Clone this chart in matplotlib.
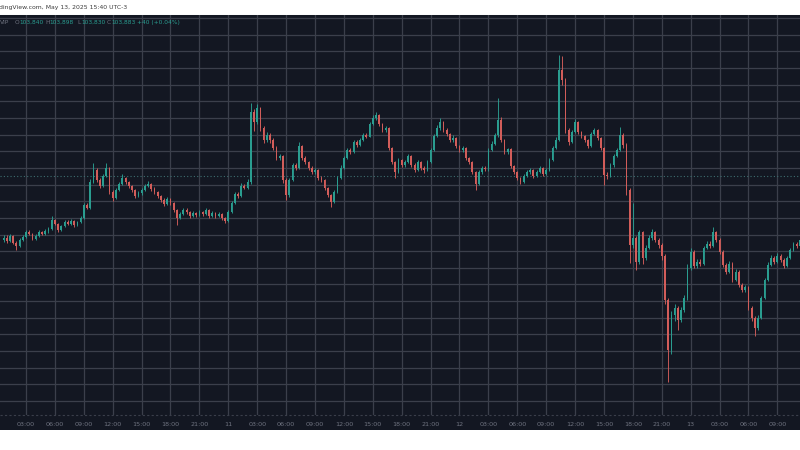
import matplotlib
matplotlib.use("Agg")
import matplotlib.pyplot as plt
from matplotlib.lines import Line2D

# ---------------- data (20-minute candles, hours since May 10 00:00, UTC-3) -------------
first_open = 102920
closes = [
    102950, 102905, 102980, 102875, 102830, 102920, 102965, 103040, 103010, 102935,
    102980, 103040, 103010, 103055, 103085, 103220, 103160, 103070, 103130, 103190,
    103160, 103205, 103145, 103190, 103250, 103445, 103400, 103790, 103970, 103820,
    103730, 103880, 104000, 103640, 103550, 103670, 103760, 103850, 103790, 103730,
    103670, 103580, 103625, 103670, 103730, 103760, 103685, 103640, 103580, 103520,
    103460, 103535, 103475, 103370, 103250, 103310, 103370, 103340, 103280, 103325,
    103295, 103340, 103310, 103370, 103280, 103325, 103280, 103310, 103250, 103205,
    103340, 103475, 103610, 103580, 103730, 103700, 103790, 104840, 104690, 104900,
    104600, 104420, 104495, 104420, 104300, 104150, 104180, 103820, 103595, 103820,
    104045, 104000, 104330, 104150, 104090, 104000, 103940, 103970, 103850, 103820,
    103700, 103595, 103490, 103640, 103850, 104000, 104150, 104270, 104240, 104390,
    104345, 104420, 104495, 104470, 104660, 104750, 104795, 104660, 104570, 104600,
    104300, 104090, 103940, 104120, 104045, 104090, 104180, 104045, 103970, 104090,
    104000, 103970, 104090, 104270, 104480, 104600, 104690, 104570, 104510, 104420,
    104450, 104330, 104270, 104300, 104150, 104090, 103940, 103760, 103940, 104000,
    103980, 104270, 104360, 104495, 104720, 104420, 104240, 104280, 104030, 103940,
    103850, 103790, 103880, 103940, 103970, 103880, 103940, 104000, 103910, 103970,
    104120, 104300, 104420, 105470, 105320, 104570, 104390, 104540, 104690, 104540,
    104480, 104420, 104330, 104510, 104570, 104450, 104300, 103895, 103880, 104045,
    104180, 104270, 104495, 104345, 103670, 102845, 102950, 102590, 103040, 102650,
    102800, 102950, 103040, 102920, 102845, 102680, 102020, 101270, 101795, 101900,
    101720, 101870, 102050, 102500, 102740, 102530, 102590, 102560, 102800, 102860,
    102830, 103040, 102920, 102740, 102545, 102440, 102560, 102320, 102440, 102245,
    102170, 102210, 101900, 101750, 101600, 101750, 102050, 102320, 102545, 102650,
    102590, 102680, 102620, 102530, 102650, 102770, 102860, 102830, 102920,
]
highs = [
    102995, 102985, 103010, 103000, 102900, 102945, 103000, 103075, 103070, 103030,
    103005, 103065, 103060, 103080, 103120, 103280, 103240, 103175, 103150, 103215,
    103220, 103230, 103225, 103210, 103280, 103470, 103480, 103830, 104075, 103995,
    103850, 103910, 104075, 104020, 103665, 103700, 103790, 103910, 103870, 103810,
    103750, 103690, 103650, 103700, 103760, 103800, 103780, 103710, 103660, 103600,
    103545, 103560, 103555, 103490, 103390, 103340, 103400, 103395, 103360, 103350,
    103345, 103365, 103360, 103395, 103385, 103350, 103340, 103335, 103325, 103270,
    103365, 103500, 103640, 103640, 103770, 103760, 103830, 104975, 104880, 104960,
    104920, 104630, 104540, 104520, 104450, 104330, 104210, 104200, 103850, 103850,
    104080, 104080, 104390, 104350, 104180, 104110, 104030, 104000, 103990, 103880,
    103840, 103720, 103615, 103670, 103880, 104040, 104180, 104300, 104300, 104420,
    104420, 104450, 104530, 104520, 104690, 104790, 104840, 104815, 104680, 104630,
    104620, 104320, 104110, 104150, 104140, 104120, 104210, 104200, 104070, 104120,
    104110, 104030, 104120, 104300, 104510, 104640, 104750, 104710, 104600, 104530,
    104490, 104470, 104350, 104330, 104320, 104170, 104110, 103960, 103970, 104030,
    104030, 104300, 104400, 104530, 105050, 104760, 104440, 104300, 104300, 104050,
    103960, 103870, 103910, 103970, 104000, 103990, 103970, 104030, 104020, 104000,
    104150, 104330, 104460, 105695, 105680, 105350, 104600, 104570, 104735, 104710,
    104560, 104500, 104440, 104540, 104600, 104590, 104470, 104320, 103940, 104080,
    104210, 104300, 104615, 104520, 104370, 103700, 103475, 102980, 103070, 103060,
    102840, 102990, 103080, 103060, 102950, 102870, 102700, 102050, 101850, 101960,
    101930, 101910, 102090, 102560, 102800, 102760, 102630, 102630, 102830, 102900,
    102900, 103115, 103060, 102940, 102760, 102570, 102600, 102580, 102480, 102460,
    102270, 102240, 102230, 101920, 101770, 101790, 102080, 102350, 102580, 102690,
    102680, 102720, 102700, 102640, 102680, 102800, 102890, 102880, 102950,
]
lows = [
    102890, 102870, 102880, 102850, 102770, 102815, 102900, 102950, 102985, 102910,
    102915, 102960, 102990, 102995, 103030, 103070, 103140, 103040, 103050, 103110,
    103140, 103145, 103120, 103125, 103170, 103235, 103380, 103380, 103770, 103790,
    103700, 103715, 103860, 103610, 103500, 103530, 103650, 103740, 103760, 103700,
    103640, 103550, 103560, 103600, 103650, 103710, 103660, 103610, 103550, 103490,
    103430, 103440, 103450, 103340, 103145, 103230, 103290, 103315, 103250, 103260,
    103270, 103275, 103285, 103290, 103255, 103260, 103250, 103260, 103220, 103170,
    103190, 103320, 103455, 103550, 103560, 103680, 103690, 103760, 104560, 104660,
    104560, 104380, 104390, 104380, 104270, 104120, 104120, 103780, 103520, 103570,
    103800, 103970, 103980, 104120, 104060, 103970, 103910, 103910, 103820, 103790,
    103670, 103560, 103415, 103470, 103620, 103830, 103980, 104130, 104210, 104220,
    104320, 104325, 104400, 104450, 104460, 104640, 104720, 104630, 104540, 104540,
    104270, 104060, 103850, 103920, 104010, 104020, 104070, 104010, 103940, 103950,
    103970, 103930, 103950, 104070, 104250, 104460, 104570, 104540, 104480, 104390,
    104390, 104300, 104240, 104240, 104120, 104060, 103910, 103670, 103740, 103910,
    103950, 103960, 104250, 104340, 104470, 104390, 104210, 104210, 104000, 103910,
    103820, 103760, 103770, 103860, 103910, 103850, 103860, 103920, 103880, 103890,
    103950, 104100, 104280, 104400, 105250, 104520, 104350, 104370, 104520, 104510,
    104450, 104390, 104300, 104310, 104490, 104420, 104270, 103745, 103840, 103860,
    104020, 104160, 104250, 104300, 103600, 102575, 102800, 102470, 102560, 102560,
    102620, 102780, 102920, 102890, 102800, 102620, 101950, 100790, 101200, 101700,
    101570, 101680, 101840, 102020, 102470, 102500, 102490, 102530, 102540, 102780,
    102800, 102810, 102890, 102710, 102510, 102400, 102420, 102290, 102300, 102210,
    102130, 102130, 101860, 101700, 101480, 101570, 101730, 102030, 102300, 102520,
    102560, 102570, 102590, 102500, 102510, 102630, 102750, 102800, 102810,
]
opens = [first_open] + closes[:-1]
candle_hours = [2 / 3 + i / 3 for i in range(len(closes))]

tick_hours = [3, 6, 9, 12, 15, 18, 21, 24, 27, 30, 33, 36, 39, 42, 45, 48,
              51, 54, 57, 60, 63, 66, 69, 72, 75, 78, 81]
tick_labels = ["03:00", "06:00", "09:00", "12:00", "15:00", "18:00", "21:00", "11",
               "03:00", "06:00", "09:00", "12:00", "15:00", "18:00", "21:00", "12",
               "03:00", "06:00", "09:00", "12:00", "15:00", "18:00", "21:00", "13",
               "03:00", "06:00", "09:00"]
price_grid = list(range(100500, 106251, 250))
last_price = 103883
header_title = "dingView.com, May 13, 2025 15:40 UTC-3"
ohlc_labels = ["O", "H", "L", "C"]
ohlc_values = ["103,840", "103,898", "103,830", "103,883"]
change_text = "+40 (+0.04%)"

# ---------------- style ----------------
BG = "#131722"
GRID = "#3b3f4b"
UP = "#2a9d90"
DOWN = "#d25d5a"
TXT = "#6f7380"

W, H = 800, 450
fig = plt.figure(figsize=(8, 4.5), dpi=100, facecolor="white")

def fy(py):
    return 1 - py / H

# dark panel (chart + time axis), drawn behind the axes
bg_ax = fig.add_axes([0, fy(430), 1, fy(15) - fy(430)], zorder=0)
bg_ax.set_facecolor(BG)
bg_ax.set_xticks([])
bg_ax.set_yticks([])
for s in bg_ax.spines.values():
    s.set_visible(False)
bg_ax.axhline(1.0, color="#c8cad0", lw=0.8, clip_on=False)

ax = fig.add_axes([0, fy(415), 1, fy(15) - fy(415)], zorder=1)
ax.set_facecolor(BG)
ax.set_xlim(0.301, 83.35)
ax.set_ylim(100289.8, 106295.8)
for s in ax.spines.values():
    s.set_visible(False)

ax.set_yticks(price_grid)
ax.set_yticklabels([])
ax.set_xticks(tick_hours)
ax.set_xticklabels(tick_labels, fontsize=4.6, color=TXT)
ax.tick_params(axis="both", length=0, pad=5)
ax.grid(True, color=GRID, lw=0.9, zorder=0)
ax.set_axisbelow(True)

# candles
cols = [UP if c >= o else DOWN for o, c in zip(opens, closes)]
ax.vlines(candle_hours, lows, highs, colors=cols, lw=0.65, zorder=2)
bottoms = [min(o, c) for o, c in zip(opens, closes)]
heights = [max(abs(c - o), 15) for o, c in zip(opens, closes)]
ax.bar(candle_hours, heights, bottom=bottoms, width=0.18, color=cols, lw=0, zorder=3)

# last price dotted line
ax.axhline(last_price, color="#3d6f70", lw=0.8, ls=(0, (1, 2)), zorder=1)

# separator between chart and time scale
ax.axhline(100289.8, color="#3a3e4a", lw=0.8, ls=(0, (2, 2)), zorder=4, clip_on=False)

# header
fig.text(-0.001, fy(8), header_title, fontsize=4.4, color="#3c3c3c", va="center", ha="left")
fig.text(0 / W, fy(22.5), "VIP", fontsize=4.2, color=TXT, va="center", ha="left", zorder=5)
lab_x = [14.5, 45, 77, 107]
val_x = [19, 49, 81, 111]
for lx, vx, lab, val in zip(lab_x, val_x, ohlc_labels, ohlc_values):
    fig.text(lx / W, fy(22.5), lab, fontsize=4.2, color=TXT, va="center", ha="left", zorder=5)
    fig.text(vx / W, fy(22.5), val, fontsize=4.2, color=UP, va="center", ha="left", zorder=5)
fig.text(137 / W, fy(22.5), change_text, fontsize=4.2, color=UP, va="center", ha="left", zorder=5)

fig.savefig("out.png", dpi=100, facecolor="white")
